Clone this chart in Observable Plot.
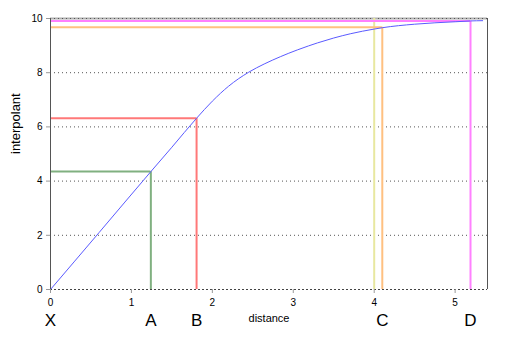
<!DOCTYPE html>
<html><head><meta charset="utf-8">
<script src="https://cdn.jsdelivr.net/npm/d3@7"></script>
<script src="https://cdn.jsdelivr.net/npm/@observablehq/plot@0.6"></script>
<style>body{margin:0;background:#fff;} svg{display:block;}</style>
</head><body><div id="chart"></div>
<script>
// curve
const curveX = [0, 0.6, 1.24, 1.5, 1.805, 2.0, 2.2, 2.45, 2.64, 2.84, 3.05, 3.19, 3.30, 3.50, 3.71, 4.0, 4.1, 4.5, 5.0, 5.19, 5.34];
const curveY = [0, 2.1, 4.35, 5.25, 6.32, 6.95, 7.50, 8.02, 8.32, 8.59, 8.84, 8.99, 9.10, 9.28, 9.44, 9.61, 9.66, 9.79, 9.88, 9.91, 9.92];
// marker lines
const markNames = ["A", "B", "C1", "C2", "D"];
const markX = [1.24, 1.805, 4.0, 4.1, 5.19];
const markY = [4.35, 6.32, 10, 9.68, 9.91];
const markColors = ["#80b080", "#ff7878", "#e8e8a0", "#ffc080", "#ff80ff"];
// letters under the axis
const letterText = ["X", "A", "B", "C", "D"];
const letterX = [0, 1.24, 1.805, 4.1, 5.19];
const xTicks = [0, 1, 2, 3, 4, 5];
const yTicks = [0, 2, 4, 6, 8, 10];

const curve = curveX.map((x, i) => ({x, y: curveY[i]}));
const markers = markNames.map((n, i) => ({n, x: markX[i], y: markY[i], c: markColors[i]}));
const letters = letterText.map((t, i) => ({t, x: letterX[i]}));

const chart = Plot.plot({
  width: 512, height: 361,
  marginLeft: 50, marginRight: 25, marginTop: 18, marginBottom: 72,
  style: {fontFamily: "Liberation Sans, Arial, sans-serif", fontSize: "10px", background: "#fff", overflow: "visible"},
  x: {domain: [0, 5.4], axis: null},
  y: {domain: [0, 10], axis: null},
  marks: [
    Plot.ruleY([10], {stroke: "#b0b0b0", strokeWidth: 2}),
    Plot.ruleY(yTicks.filter(d => d > 0), {stroke: "#555", strokeDasharray: "1,3"}),
    Plot.ruleX(markers, {x: "x", y1: 0, y2: "y", stroke: "c", strokeWidth: 2}),
    Plot.ruleY(markers.filter(d => d.y < 10), {y: "y", x1: 0, x2: "x", stroke: "c", strokeWidth: 2}),
    Plot.ruleY([0], {stroke: "#444", strokeDasharray: "2,2"}),
    Plot.ruleX([0, 5.4], {stroke: "#555"}),
    Plot.line(curve, {x: "x", y: "y", stroke: "#5a5aff", strokeWidth: 1, curve: "monotone-x"}),
    Plot.axisX({ticks: xTicks, tickFormat: d3.format("d"), tickSize: 4, tickPadding: 5, stroke: "#999", fill: "#000", fontSize: 10, label: null}),
    Plot.axisY({ticks: yTicks, tickFormat: d3.format("d"), tickSize: 4, tickPadding: 4, stroke: "#999", fill: "#000", fontSize: 10, label: null}),
    Plot.text(letters, {x: "x", text: "t", frameAnchor: "bottom", dy: 36, fontSize: 17, fill: "#000"}),
    Plot.text(["distance"], {frameAnchor: "bottom", dy: 32, fontSize: 11, fill: "#000"}),
    Plot.text(["interpolant"], {frameAnchor: "left", dx: -35, rotate: -90, fontSize: 13, fill: "#000"})
  ]
});
document.getElementById("chart").appendChild(chart);
</script></body></html>
